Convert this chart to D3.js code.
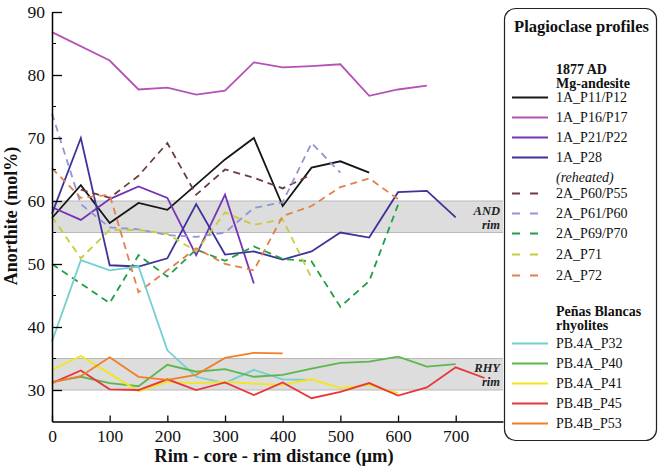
<!DOCTYPE html>
<html><head><meta charset="utf-8">
<script src="https://cdn.jsdelivr.net/npm/d3@7"></script>
<style>html,body{margin:0;padding:0;background:#fff;}svg{display:block;} svg text{font-family:"Liberation Serif","Times New Roman","DejaVu Serif",serif;}</style>
</head><body>
<script>
// ---------------- data ----------------
const distances = [0,50,100,150,200,250,300,350,400,450,500,550,600,650,700,750];
const seriesNames = ["1A_P11/P12","1A_P16/P17","1A_P21/P22","1A_P28","2A_P60/P55","2A_P61/P60","2A_P69/P70","2A_P71","2A_P72","PB.4A_P32","PB.4A_P40","PB.4A_P41","PB.4B_P45","PB.4B_P53"];
const seriesColors = ["#161616","#b552b8","#7433b8","#3d3399","#6e3b3f","#8f95d8","#1fa045","#c8cc3a","#e0804f","#74cfd0","#5cb84c","#f2e61c","#e8363a","#f07f2a"];
const seriesDashed = [false,false,false,false,true,true,true,true,true,false,false,false,false,false];
const p11 = [57.3,62.5,56.5,59.7,58.6,62.6,66.6,70.0,59.2,65.3,66.3,64.5,null,null,null,null];
const p16 = [86.8,null,82.3,77.7,78.0,76.9,77.5,82.0,81.2,81.4,81.7,76.7,77.7,78.3,null,null];
const p21 = [59.0,57.0,60.3,62.3,60.5,51.4,61.0,46.9,null,null,null,null,null,null,null,null];
const p28 = [58.0,70.0,49.8,49.6,50.9,59.5,51.5,52.0,50.7,52.0,55.0,54.2,61.4,61.6,57.4,null];
const p60 = [null,61.8,60.5,64.0,69.2,61.0,65.0,63.7,62.0,64.2,null,null,null,null,null,null];
const p61 = [73.9,59.5,55.8,55.5,54.6,54.3,55.0,58.9,59.8,69.2,64.5,null,null,null,null,null];
const p69 = [50.0,null,43.8,51.4,48.0,52.3,50.5,52.8,50.8,50.4,43.2,47.3,59.4,null,null,null];
const p71 = [57.5,50.9,55.4,55.4,54.8,52.0,58.2,56.2,57.1,47.8,null,null,null,null,null,null];
const p72 = [65.2,60.5,61.0,45.5,49.0,52.5,50.0,49.0,57.6,59.2,62.2,63.6,60.3,null,null,null];
const pb32 = [37.7,50.6,49.0,49.6,36.3,32.1,31.1,33.2,31.7,31.6,null,null,null,null,null,null];
const pb40 = [31.3,32.1,31.1,30.6,34.0,32.9,33.3,32.1,32.4,33.4,34.3,34.5,35.3,33.7,34.1,null];
const pb41 = [33.2,35.4,32.6,29.8,31.3,31.1,31.3,31.0,30.8,31.7,30.3,30.8,29.5,null,null,null];
const pb45 = [31.1,33.1,30.1,30.0,31.7,30.0,31.2,29.2,31.2,28.7,29.7,31.1,29.1,30.4,33.6,31.9];
const pb53 = [31.2,32.2,35.2,32.1,31.6,32.4,35.1,35.9,35.8,null,null,null,null,null,null,null];
const seriesValues = [p11,p16,p21,p28,p60,p61,p69,p71,p72,pb32,pb40,pb41,pb45,pb53];
const bandRanges = [[55,60],[30,35]];
const bandLabels = [["AND","rim"],["RHY","rim"]];
const yTickValues = [30,40,50,60,70,80,90];
const yMinorTicks = [35,45,55,65,75,85];
const xTickValues = [0,100,200,300,400,500,600,700];
const legendTitle = "Plagioclase profiles";
const groupHeads = [["1877 AD","Mg-andesite"],["Peñas Blancas","rhyolites"]];
const reheatedNote = "(reheated)";

// ---------------- chart ----------------
const FONT = "'Liberation Serif','Times New Roman','DejaVu Serif',serif";
const W = 658, H = 466;
const svg = d3.select("body").append("svg").attr("width",W).attr("height",H).attr("font-family",FONT);
const x = d3.scaleLinear().domain([0,782]).range([52,503]);
const y = d3.scaleLinear().domain([25,90]).range([421.5,12]);

// bands
bandRanges.forEach((b,i)=>{
  svg.append("rect").attr("x",x(0)).attr("y",y(b[1])).attr("width",x(782)-x(0)).attr("height",y(b[0])-y(b[1]))
    .attr("fill","#dcdddc");
  [b[0],b[1]].forEach(v=>svg.append("line").attr("x1",x(0)).attr("x2",x(782)).attr("y1",y(v)).attr("y2",y(v))
    .attr("stroke","#b9b9b9").attr("stroke-width",1.2));
  const t = svg.append("g").attr("font-style","italic").attr("font-weight","bold").attr("font-size",12.5).attr("text-anchor","end").attr("fill","#222");
  t.append("text").attr("x",500).attr("y",y(b[1])+13.5).text(bandLabels[i][0]);
  t.append("text").attr("x",500).attr("y",y(b[0])-4).text(bandLabels[i][1]);
});

// lines
const line = d3.line().x(d=>x(d[0])).y(d=>y(d[1]));
seriesValues.forEach((vals,i)=>{
  const pts = distances.map((d,j)=>[d,vals[j]]).filter(p=>p[1]!==null);
  svg.append("path").datum(pts).attr("d",line).attr("fill","none")
    .attr("stroke",seriesColors[i]).attr("stroke-width",1.8)
    .attr("stroke-dasharray",seriesDashed[i]?"7,5":null);
});

// axes
const yAxis = d3.axisLeft(y).tickValues(yTickValues).tickSize(-10).tickPadding(7).tickSizeOuter(0);
const gy = svg.append("g").attr("transform",`translate(${x(0)},0)`).call(yAxis);
const xAxis = d3.axisBottom(x).tickValues(xTickValues).tickSize(-6).tickPadding(8).tickSizeOuter(0);
const gx = svg.append("g").attr("transform",`translate(0,${y(25)})`).call(xAxis);
gy.append("g").selectAll("line").data(yMinorTicks).join("line").attr("x1",0).attr("x2",4).attr("y1",d=>y(d)).attr("y2",d=>y(d)).attr("stroke","#000");
[gx,gy].forEach(g=>{
  g.attr("font-family",FONT).attr("font-size",17.5);
  g.selectAll("text").attr("fill","#111");
  g.select(".domain").attr("stroke","#000").attr("stroke-width",1.5);
  g.selectAll(".tick line").attr("stroke","#000").attr("stroke-width",1.3);
});

svg.append("text").attr("transform","translate(17,216) rotate(-90)").attr("text-anchor","middle")
  .attr("font-weight","bold").attr("font-size",18).attr("fill","#111").text("Anorthite (mol%)");
svg.append("text").attr("x",274).attr("y",462).attr("text-anchor","middle")
  .attr("font-weight","bold").attr("font-size",18.5).attr("fill","#111").text("Rim - core - rim distance (μm)");

// legend
const lg = svg.append("g");
lg.append("rect").attr("x",504.5).attr("y",8.5).attr("width",152).attr("height",432).attr("rx",11)
  .attr("fill","#fff").attr("stroke","#222").attr("stroke-width",1.2);
lg.append("text").attr("x",581.5).attr("y",32).attr("text-anchor","middle").attr("font-weight","bold").attr("font-size",16.5).attr("fill","#111").text(legendTitle);
const tx = 556, lx1 = 512, lx2 = 548;
function head(lines, y0){ lines.forEach((s,k)=>lg.append("text").attr("x",tx).attr("y",y0+k*13.5).attr("font-weight","bold").attr("font-size",14).attr("fill","#111").text(s)); }
head(groupHeads[0],74);
head(groupHeads[1],316);
lg.append("text").attr("x",tx).attr("y",182).attr("font-style","italic").attr("font-size",14).attr("fill","#111").text(reheatedNote);
const legendY = [102,122,142,162,198,218,238,259,280,348,368,388,408,428];
seriesNames.forEach((n,i)=>{
  const by = legendY[i];
  lg.append("line").attr("x1",lx1).attr("x2",lx2).attr("y1",by-4.5).attr("y2",by-4.5)
    .attr("stroke",seriesColors[i]).attr("stroke-width",1.8).attr("stroke-dasharray",seriesDashed[i]?"8,10":null);
  lg.append("text").attr("x",tx).attr("y",by).attr("font-size",14).attr("fill","#111").text(n);
});
</script>
</body></html>
